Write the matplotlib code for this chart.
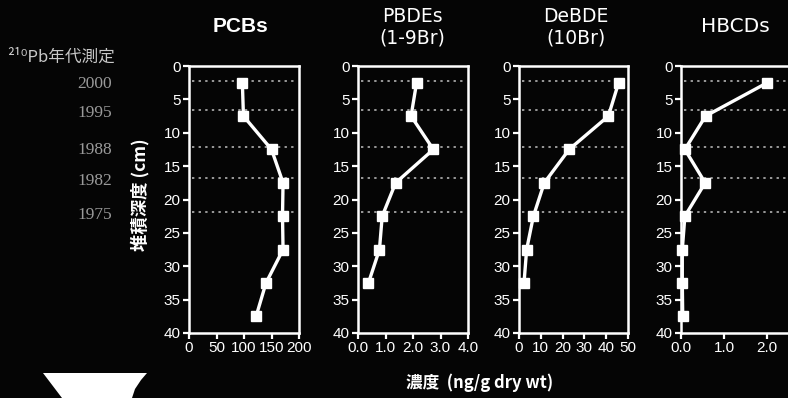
import matplotlib
matplotlib.use("Agg")
import matplotlib.pyplot as plt
from matplotlib.patches import Polygon
import matplotlib.transforms as mtransforms

# Sediment core profiles: concentration vs. depth
depth = [2.5, 7.5, 12.5, 17.5, 22.5, 27.5, 32.5, 37.5]

pcbs = [97, 99, 150, 171, 170, 171, 140, 122]
pbdes = [2.13, 1.93, 2.74, 1.37, 0.88, 0.78, 0.38]
debde = [45.7, 41.0, 23.0, 11.6, 6.6, 3.5, 2.3]
hbcds = [2.0, 0.57, 0.09, 0.56, 0.09, 0.03, 0.03, 0.04]

titles = ["PCBs", "PBDEs\n(1-9Br)", "DeBDE\n(10Br)", "HBCDs"]
x_ticks = [[0, 50, 100, 150, 200],
           [0, 1, 2, 3, 4],
           [0, 10, 20, 30, 40, 50],
           [0, 1, 2]]
x_ticklabels = [["0", "50", "100", "150", "200"],
                ["0.0", "1.0", "2.0", "3.0", "4.0"],
                ["0", "10", "20", "30", "40", "50"],
                ["0.0", "1.0", "2.0"]]
x_limits = [(0, 200), (0, 4), (0, 50), (0, 2.55)]
y_ticks = [0, 5, 10, 15, 20, 25, 30, 35, 40]

# 210Pb dating horizons
dating_years = ["2000", "1995", "1988", "1982", "1975"]
dating_depths = [2.2, 6.6, 12.1, 16.8, 21.8]

W, H = 788, 398
BG = "#050505"
FG = "white"
LATIN = ["Liberation Sans", "Noto Sans CJK JP"]
TITLE = ["DejaVu Sans"]
CJK = ["Noto Sans CJK JP", "DejaVu Sans"]

fig = plt.figure(figsize=(W / 100, H / 100), dpi=100, facecolor=BG)

# panel frames in pixels: (left, right)
panel_px = [(189, 299), (358, 468), (519, 628), (681, 791)]
title_cx = [241, 412, 576, 735]
top_px, bottom_px = 66, 333

series = [pcbs, pbdes, debde, hbcds]
axes = []
for i, (l, r) in enumerate(panel_px):
    ax = fig.add_axes([l / W, 1 - bottom_px / H, (r - l) / W, (bottom_px - top_px) / H])
    ax.set_facecolor(BG)
    vals = series[i]
    for d in dating_depths:
        ax.axhline(d, xmin=0.03, xmax=0.97, color="#9a9a9a", lw=1.4,
                   ls=(0, (1.2, 2.2)), zorder=1)
    ax.plot(vals, depth[:len(vals)], color=FG, lw=2.4, marker="s",
            markersize=7.5, markerfacecolor=FG, markeredgecolor=FG, zorder=3,
            clip_on=False)
    ax.set_xlim(*x_limits[i])
    ax.set_ylim(40, 0)
    ax.set_yticks(y_ticks)
    ax.set_yticklabels([str(t) for t in y_ticks], family=LATIN, fontsize=11,
                       color=FG)
    ax.set_xticks(x_ticks[i])
    ax.set_xticklabels(x_ticklabels[i], family=LATIN, fontsize=11, color=FG)
    ax.tick_params(colors=FG, width=1.6, length=4, pad=2)
    for s in ax.spines.values():
        s.set_color(FG)
        s.set_linewidth(1.8)
    axes.append(ax)

    cx = title_cx[i] / W
    if i == 0:
        fig.text(cx, 1 - 27 / H, titles[i], ha="center", va="center",
                 fontsize=15, fontweight="bold", color=FG, family=LATIN)
    elif "\n" in titles[i]:
        fig.text(cx, 1 - 27 / H, titles[i], ha="center", va="center",
                 fontsize=13.5, color=FG, family=TITLE, linespacing=1.15)
    else:
        fig.text(cx, 1 - 27 / H, titles[i], ha="center", va="center",
                 fontsize=14.5, color=FG, family=TITLE)

# axis titles
fig.text(140 / W, 1 - 195 / H, "堆積深度 (cm)", rotation=90, ha="center",
         va="center", fontsize=12.5, fontweight="bold", color=FG, family=CJK)
fig.text(480 / W, 1 - 383 / H, "濃度  (ng/g dry wt)", ha="center",
         va="center", fontsize=12, fontweight="bold", color=FG, family=CJK)

# dating labels on the left, aligned with the horizon depths
fig.text(7 / W, 1 - 57 / H, "²¹⁰Pb年代測定", ha="left", va="center",
         fontsize=12, color="#c8c8c8", family=CJK)
trans = mtransforms.blended_transform_factory(fig.transFigure, axes[0].transData)
for yr, d in zip(dating_years, dating_depths):
    fig.text(112 / W, d + 0.5, yr, transform=trans, ha="right", va="center",
             fontsize=12.5, color="#9a9a9a", family=["Liberation Serif"])

# white wedge at the lower left edge
wedge = [(43, 373), (147, 373), (141, 380), (135, 389), (132, 398), (62, 398)]
fig.patches.append(Polygon([(x / W, 1 - y / H) for x, y in wedge],
                           closed=True, transform=fig.transFigure,
                           facecolor="white", edgecolor="none"))

fig.savefig("out.png", dpi=100, facecolor=BG)
